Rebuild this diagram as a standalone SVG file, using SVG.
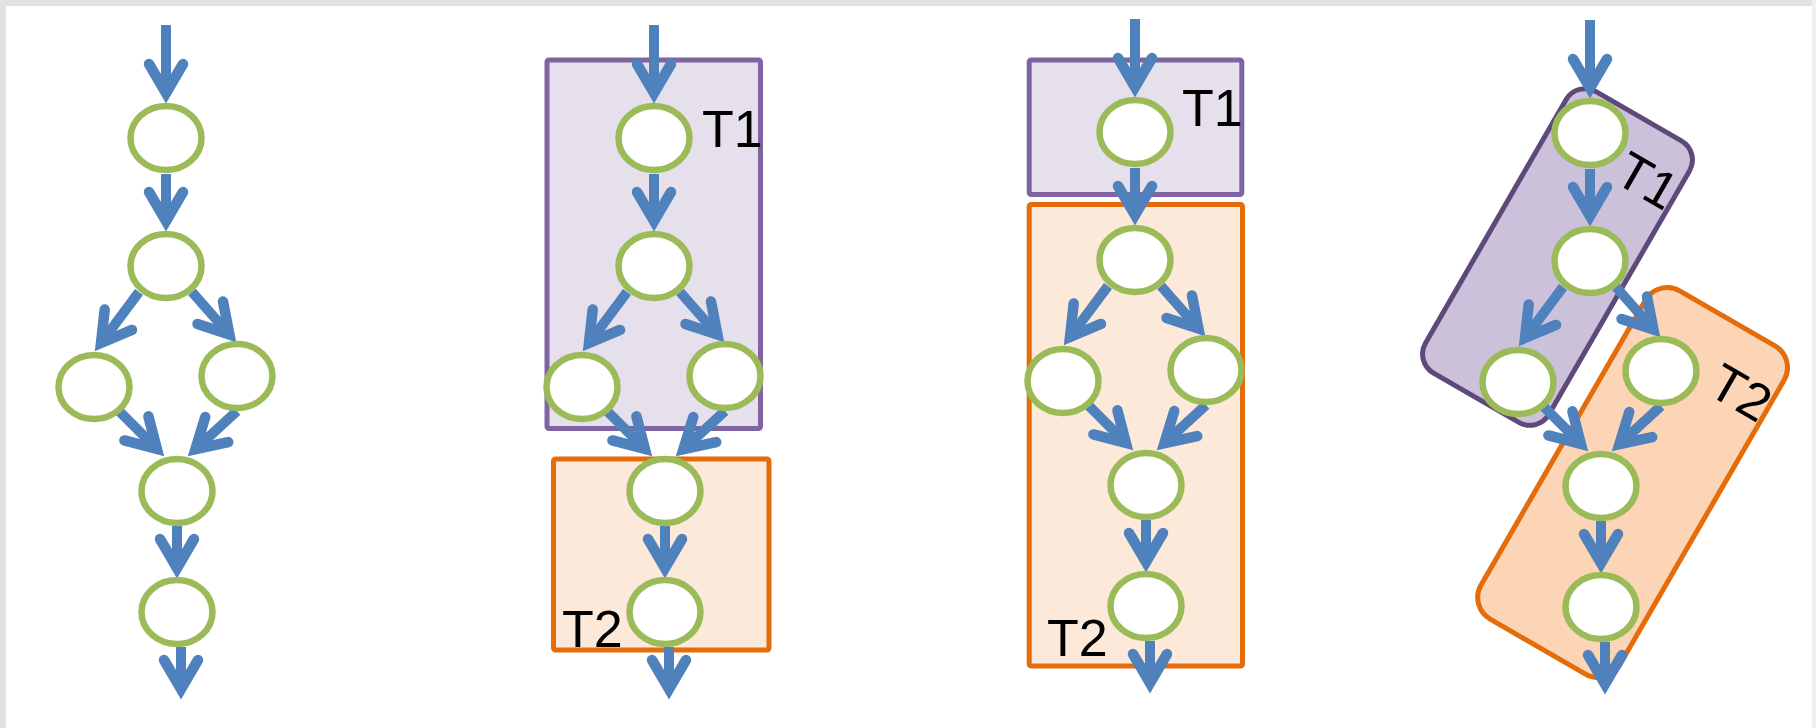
<svg xmlns="http://www.w3.org/2000/svg" width="1816" height="728" viewBox="0 0 1816 728">
  <defs>
    <!-- open chevron arrowhead; apex sits at the path end -->
    <marker id="chevron" markerUnits="userSpaceOnUse" orient="auto" refX="0" refY="0" markerWidth="1" markerHeight="1" overflow="visible">
      <path d="M-29,-17 L0,0 L-29,17" fill="none" stroke="#4F81BD" stroke-width="10.5" stroke-linecap="round" stroke-linejoin="miter"/>
    </marker>
  </defs>
  <style>
    .edge { fill: none; stroke: #4F81BD; stroke-width: 10; marker-end: url(#chevron); }
    .node ellipse { fill: #FFFFFF; stroke: #9BBB59; stroke-width: 6.5; }
    .label { font-family: "Liberation Sans", Arial, sans-serif; font-size: 52px; fill: #000000; }
    .t1 { fill: #E5E0EC; stroke: #8064A2; stroke-width: 5; }
    .t2 { fill: #FDE9D9; stroke: #E46C0A; stroke-width: 5; }
    .t1-rot { fill: #CCC1DA; stroke: #5F497A; stroke-width: 5; }
    .t2-rot { fill: #FBD5B5; stroke: #E46C0A; stroke-width: 5; }
  </style>

  <!-- page frame -->
  <rect width="1816" height="728" fill="#E2E2E2"/>
  <rect x="1812" y="0" width="4" height="728" fill="#EFEFEF"/>
  <rect x="6" y="6" width="1806" height="722" fill="#FFFFFF"/>

  <!-- ===== Panel 1: plain task graph ===== -->
  <g id="panel-1">
    <g id="p1-connectors">
      <path class="edge" d="M166,25 L166,93"/>
      <path class="edge" d="M166,174 L166,221"/>
      <path class="edge" d="M139,292 L101,343"/>
      <path class="edge" d="M192,292 L229.4,334.5"/>
      <path class="edge" d="M119,411 L156.9,448.9"/>
      <path class="edge" d="M237,411 L195.4,449.2"/>
      <path class="edge" d="M177,526 L177,568"/>
      <path class="edge" d="M181,647 L181,689"/>
    </g>
    <g id="p1-n1" class="node"><ellipse cx="166" cy="138" rx="35.5" ry="32"/></g>
    <g id="p1-n2" class="node"><ellipse cx="166" cy="266" rx="35.5" ry="32"/></g>
    <g id="p1-n3" class="node"><ellipse cx="94" cy="387" rx="35.5" ry="32"/></g>
    <g id="p1-n4" class="node"><ellipse cx="237" cy="376" rx="35.5" ry="32"/></g>
    <g id="p1-n5" class="node"><ellipse cx="177" cy="491" rx="35.5" ry="32"/></g>
    <g id="p1-n6" class="node"><ellipse cx="177" cy="612" rx="35.5" ry="32"/></g>
  </g>

  <!-- ===== Panel 2: split after the fork ===== -->
  <g id="panel-2">
    <g id="p2-T1">
      <rect class="t1" x="547" y="60" width="213.5" height="368.5" rx="2"/>
      <text class="label" x="702" y="147">T1</text>
    </g>
    <g id="p2-T2">
      <rect class="t2" x="553.5" y="459" width="215.5" height="191" rx="2"/>
      <text class="label" x="562" y="647">T2</text>
    </g>
    <g id="p2-connectors" transform="translate(488,0)">
      <path class="edge" d="M166,25 L166,93"/>
      <path class="edge" d="M166,174 L166,221"/>
      <path class="edge" d="M139,292 L101,343"/>
      <path class="edge" d="M192,292 L229.4,334.5"/>
      <path class="edge" d="M119,411 L156.9,448.9"/>
      <path class="edge" d="M237,411 L195.4,449.2"/>
      <path class="edge" d="M177,526 L177,568"/>
      <path class="edge" d="M181,647 L181,689"/>
    </g>
    <g transform="translate(488,0)">
      <g id="p2-n1" class="node"><ellipse cx="166" cy="138" rx="35.5" ry="32"/></g>
      <g id="p2-n2" class="node"><ellipse cx="166" cy="266" rx="35.5" ry="32"/></g>
      <g id="p2-n3" class="node"><ellipse cx="94" cy="387" rx="35.5" ry="32"/></g>
      <g id="p2-n4" class="node"><ellipse cx="237" cy="376" rx="35.5" ry="32"/></g>
      <g id="p2-n5" class="node"><ellipse cx="177" cy="491" rx="35.5" ry="32"/></g>
      <g id="p2-n6" class="node"><ellipse cx="177" cy="612" rx="35.5" ry="32"/></g>
    </g>
  </g>

  <!-- ===== Panel 3: split after the first node ===== -->
  <g id="panel-3">
    <g id="p3-T1">
      <rect class="t1" x="1029.2" y="60" width="212.6" height="134.5" rx="2"/>
      <text class="label" x="1182" y="126">T1</text>
    </g>
    <g id="p3-T2">
      <rect class="t2" x="1029.2" y="204.5" width="213.3" height="461.5" rx="2"/>
      <text class="label" x="1047" y="656">T2</text>
    </g>
    <g id="p3-connectors" transform="translate(969,-6)">
      <path class="edge" d="M166,25 L166,93"/>
      <path class="edge" d="M166,174 L166,221"/>
      <path class="edge" d="M139,292 L101,343"/>
      <path class="edge" d="M192,292 L229.4,334.5"/>
      <path class="edge" d="M119,411 L156.9,448.9"/>
      <path class="edge" d="M237,411 L195.4,449.2"/>
      <path class="edge" d="M177,526 L177,568"/>
      <path class="edge" d="M181,647 L181,689"/>
    </g>
    <g transform="translate(969,-6)">
      <g id="p3-n1" class="node"><ellipse cx="166" cy="138" rx="35.5" ry="32"/></g>
      <g id="p3-n2" class="node"><ellipse cx="166" cy="266" rx="35.5" ry="32"/></g>
      <g id="p3-n3" class="node"><ellipse cx="94" cy="387" rx="35.5" ry="32"/></g>
      <g id="p3-n4" class="node"><ellipse cx="237" cy="376" rx="35.5" ry="32"/></g>
      <g id="p3-n5" class="node"><ellipse cx="177" cy="491" rx="35.5" ry="32"/></g>
      <g id="p3-n6" class="node"><ellipse cx="177" cy="612" rx="35.5" ry="32"/></g>
    </g>
  </g>

  <!-- ===== Panel 4: diagonal split ===== -->
  <g id="panel-4">
    <g id="p4-T1">
      <rect class="t1-rot" x="-71.25" y="-162.5" width="142.5" height="325" rx="22" transform="translate(1557.5,257) rotate(30)"/>
      <text class="label" transform="translate(1612,181) rotate(30)">T1</text>
    </g>
    <g id="p4-T2">
      <rect class="t2-rot" x="-80" y="-189.5" width="160" height="379" rx="25" transform="translate(1632.6,482.5) rotate(30)"/>
      <text class="label" transform="translate(1705.5,393) rotate(30)">T2</text>
    </g>
    <g id="p4-connectors" transform="translate(1424,-5)">
      <path class="edge" d="M166,25 L166,93"/>
      <path class="edge" d="M166,174 L166,221"/>
      <path class="edge" d="M139,292 L101,343"/>
      <path class="edge" d="M192,292 L229.4,334.5"/>
      <path class="edge" d="M119,411 L156.9,448.9"/>
      <path class="edge" d="M237,411 L195.4,449.2"/>
      <path class="edge" d="M177,526 L177,568"/>
      <path class="edge" d="M181,647 L181,689"/>
    </g>
    <g transform="translate(1424,-5)">
      <g id="p4-n1" class="node"><ellipse cx="166" cy="138" rx="35.5" ry="32"/></g>
      <g id="p4-n2" class="node"><ellipse cx="166" cy="266" rx="35.5" ry="32"/></g>
      <g id="p4-n3" class="node"><ellipse cx="94" cy="387" rx="35.5" ry="32"/></g>
      <g id="p4-n4" class="node"><ellipse cx="237" cy="376" rx="35.5" ry="32"/></g>
      <g id="p4-n5" class="node"><ellipse cx="177" cy="491" rx="35.5" ry="32"/></g>
      <g id="p4-n6" class="node"><ellipse cx="177" cy="612" rx="35.5" ry="32"/></g>
    </g>
  </g>
</svg>
